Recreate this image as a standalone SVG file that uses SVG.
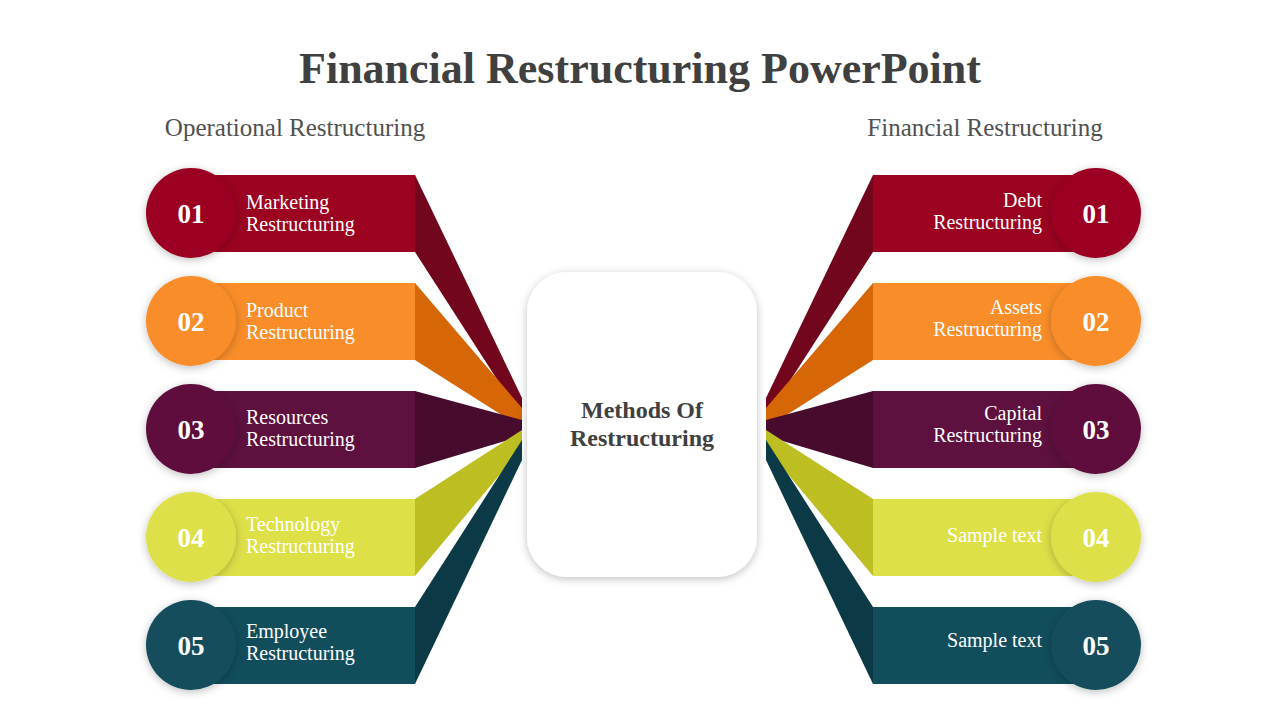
<svg xmlns="http://www.w3.org/2000/svg" width="1280" height="720" viewBox="0 0 1280 720">
<defs>
<style>
.t{font-family:"Liberation Serif","DejaVu Serif",serif}
.lbl{font-family:"Liberation Serif",serif;font-size:20px;fill:#fff}
.num{font-family:"Liberation Serif",serif;font-size:27px;font-weight:bold;fill:#fff;text-anchor:middle}
.r{text-anchor:end}
</style>
<filter id="sh" x="-20%" y="-20%" width="140%" height="140%"><feDropShadow dx="0" dy="2" stdDeviation="4" flood-color="#000" flood-opacity="0.25"/></filter>
</defs>
<rect width="1280" height="720" fill="#fff"/>
<text class="t" x="640" y="83" text-anchor="middle" font-size="44" font-weight="bold" fill="#404040">Financial Restructuring PowerPoint</text>
<text class="t" x="295" y="136" text-anchor="middle" font-size="25" fill="#505050">Operational Restructuring</text>
<text class="t" x="985" y="136" text-anchor="middle" font-size="25" fill="#505050">Financial Restructuring</text>
<g id="connectors">
<polygon points="415,175 415,252 522,418 522,398" fill="#72061C"/>
<polygon points="415,283 415,360 522,428 522,408" fill="#D66606"/>
<polygon points="415,391 415,468 522,436 522,420" fill="#470B2E"/>
<polygon points="415,499 415,576 522,448 522,430" fill="#BCBE22"/>
<polygon points="415,607 415,684 522,460 522,440" fill="#0B3A46"/>
<polygon points="873,175 873,252 766,418 766,398" fill="#72061C"/>
<polygon points="873,283 873,360 766,428 766,408" fill="#D66606"/>
<polygon points="873,391 873,468 766,436 766,420" fill="#470B2E"/>
<polygon points="873,499 873,576 766,448 766,430" fill="#BCBE22"/>
<polygon points="873,607 873,684 766,460 766,440" fill="#0B3A46"/>
</g>
<g id="center"><rect x="527" y="272" width="230" height="305" rx="40" fill="#fff" filter="url(#sh)"/>
<text class="t" x="642" y="418" text-anchor="middle" font-size="24" font-weight="bold" fill="#404040">Methods Of</text>
<text class="t" x="642" y="446" text-anchor="middle" font-size="24" font-weight="bold" fill="#404040">Restructuring</text></g>
<g id="l1"><rect x="190" y="175" width="225" height="77" fill="#9B0320"/><circle cx="191" cy="213" r="45" fill="#9B0320" filter="url(#sh)"/><text class="num" x="191" y="223">01</text><text class="lbl" x="246" y="209">Marketing</text><text class="lbl" x="246" y="231">Restructuring</text></g>
<g id="l2"><rect x="190" y="283" width="225" height="77" fill="#F98D29"/><circle cx="191" cy="321" r="45" fill="#F98D29" filter="url(#sh)"/><text class="num" x="191" y="331">02</text><text class="lbl" x="246" y="317">Product</text><text class="lbl" x="246" y="339">Restructuring</text></g>
<g id="l3"><rect x="190" y="391" width="225" height="77" fill="#5E103E"/><circle cx="191" cy="429" r="45" fill="#5E103E" filter="url(#sh)"/><text class="num" x="191" y="439">03</text><text class="lbl" x="246" y="424">Resources</text><text class="lbl" x="246" y="446">Restructuring</text></g>
<g id="l4"><rect x="190" y="499" width="225" height="77" fill="#DEE048"/><circle cx="191" cy="537" r="45" fill="#DEE048" filter="url(#sh)"/><text class="num" x="191" y="547">04</text><text class="lbl" x="246" y="531">Technology</text><text class="lbl" x="246" y="553">Restructuring</text></g>
<g id="l5"><rect x="190" y="607" width="225" height="77" fill="#124D5C"/><circle cx="191" cy="645" r="45" fill="#124D5C" filter="url(#sh)"/><text class="num" x="191" y="655">05</text><text class="lbl" x="246" y="638">Employee</text><text class="lbl" x="246" y="660">Restructuring</text></g>
<g id="r1"><rect x="873" y="175" width="225" height="77" fill="#9B0320"/><circle cx="1096" cy="213" r="45" fill="#9B0320" filter="url(#sh)"/><text class="num" x="1096" y="223">01</text><text class="lbl r" x="1042" y="207">Debt</text><text class="lbl r" x="1042" y="229">Restructuring</text></g>
<g id="r2"><rect x="873" y="283" width="225" height="77" fill="#F98D29"/><circle cx="1096" cy="321" r="45" fill="#F98D29" filter="url(#sh)"/><text class="num" x="1096" y="331">02</text><text class="lbl r" x="1042" y="314">Assets</text><text class="lbl r" x="1042" y="336">Restructuring</text></g>
<g id="r3"><rect x="873" y="391" width="225" height="77" fill="#5E103E"/><circle cx="1096" cy="429" r="45" fill="#5E103E" filter="url(#sh)"/><text class="num" x="1096" y="439">03</text><text class="lbl r" x="1042" y="420">Capital</text><text class="lbl r" x="1042" y="442">Restructuring</text></g>
<g id="r4"><rect x="873" y="499" width="225" height="77" fill="#DEE048"/><circle cx="1096" cy="537" r="45" fill="#DEE048" filter="url(#sh)"/><text class="num" x="1096" y="547">04</text><text class="lbl r" x="1042" y="542">Sample text</text></g>
<g id="r5"><rect x="873" y="607" width="225" height="77" fill="#124D5C"/><circle cx="1096" cy="645" r="45" fill="#124D5C" filter="url(#sh)"/><text class="num" x="1096" y="655">05</text><text class="lbl r" x="1042" y="647">Sample text</text></g>
</svg>
